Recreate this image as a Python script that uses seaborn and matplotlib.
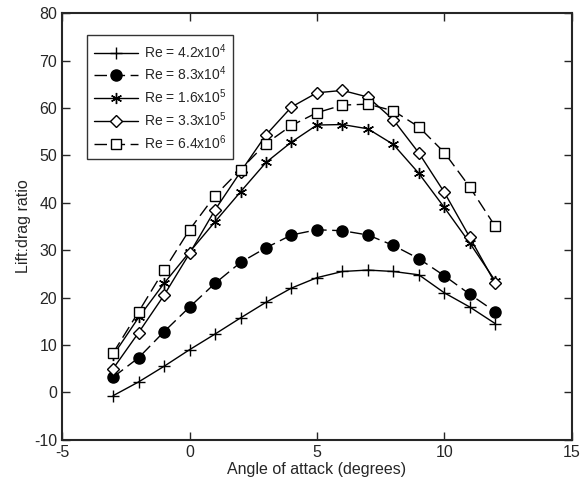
import pandas as pd
import numpy as np
import matplotlib
matplotlib.use("Agg")
import matplotlib.pyplot as plt
import seaborn as sns

# Data
angle = [-3, -2, -1, 0, 1, 2, 3, 4, 5, 6, 7, 8, 9, 10, 11, 12]
re_42e4 = [-0.7, 2.2, 5.5, 9.0, 12.3, 15.7, 19.0, 22.0, 24.2, 25.5, 25.8, 25.5, 24.8, 21.0, 18.0, 14.5]
re_83e4 = [3.2, 7.3, 12.8, 18.0, 23.0, 27.4, 30.5, 33.2, 34.3, 34.1, 33.2, 31.0, 28.2, 24.6, 20.7, 17.0]
re_16e5 = [7.8, 15.8, 23.0, 29.6, 36.0, 42.3, 48.5, 52.8, 56.4, 56.5, 55.6, 52.3, 46.2, 39.0, 31.5, 23.5]
re_33e5 = [5.0, 12.6, 20.5, 29.3, 38.5, 46.5, 54.3, 60.2, 63.2, 63.7, 62.3, 57.5, 50.5, 42.2, 32.7, 23.0]
re_64e6 = [8.3, 17.0, 25.8, 34.3, 41.5, 47.0, 52.5, 56.3, 59.0, 60.6, 60.8, 59.4, 56.0, 50.6, 43.3, 35.0]

labels = [r"Re = 4.2x10$^4$", r"Re = 8.3x10$^4$", r"Re = 1.6x10$^5$",
          r"Re = 3.3x10$^5$", r"Re = 6.4x10$^6$"]
series = [re_42e4, re_83e4, re_16e5, re_33e5, re_64e6]

# marker, marker size, filled, dashed
styles = [("+", 9, False, False),
          ("o", 8, True, True),
          ("*", 8, False, False),
          ("D", 6, False, False),
          ("s", 7, False, True)]

sns.set_style("ticks")
plt.rcParams["font.family"] = ["Liberation Sans", "DejaVu Sans"]
plt.rcParams["mathtext.fontset"] = "custom"
plt.rcParams["mathtext.rm"] = "Liberation Sans"
plt.rcParams["mathtext.it"] = "Liberation Sans"
plt.rcParams["axes.unicode_minus"] = False

fig = plt.figure(figsize=(5.81, 4.87), dpi=100)
ax = fig.add_axes([0.107, 0.097, 0.877, 0.876])

for lab, vals, (mk, ms, filled, dashed) in zip(labels, series, styles):
    df = pd.DataFrame({"angle": angle, "ratio": vals})
    kw = dict(marker=mk, markersize=ms, color="black", linewidth=1.0,
              markeredgecolor="black", markeredgewidth=1.0,
              markerfacecolor="black" if filled else "white")
    if mk == "*":
        kw["marker"] = (6, 2, 0)
    if dashed:
        kw["dashes"] = (9, 4)
    sns.lineplot(data=df, x="angle", y="ratio", ax=ax, label=lab, **kw)

ax.set_xlim(-5, 15)
ax.set_ylim(-10, 80)
ax.set_xticks(range(-5, 16, 5))
ax.set_yticks(range(-10, 81, 10))
ax.tick_params(direction="in", top=True, right=True, labelsize=11.5, length=6, width=1)
for s in ax.spines.values():
    s.set_linewidth(1.5)
ax.set_xlabel("Angle of attack (degrees)", fontsize=11.5, labelpad=2)
ax.set_ylabel("Lift:drag ratio", fontsize=11.5, labelpad=2)

leg = ax.legend(loc="upper left", bbox_to_anchor=(0.035, 0.965), fontsize=10,
                frameon=True, fancybox=False, edgecolor="black",
                handlelength=3.2, handletextpad=0.4, labelspacing=0.3,
                borderpad=0.5)
leg.get_frame().set_linewidth(1.0)

fig.savefig("out.png", dpi=100)
